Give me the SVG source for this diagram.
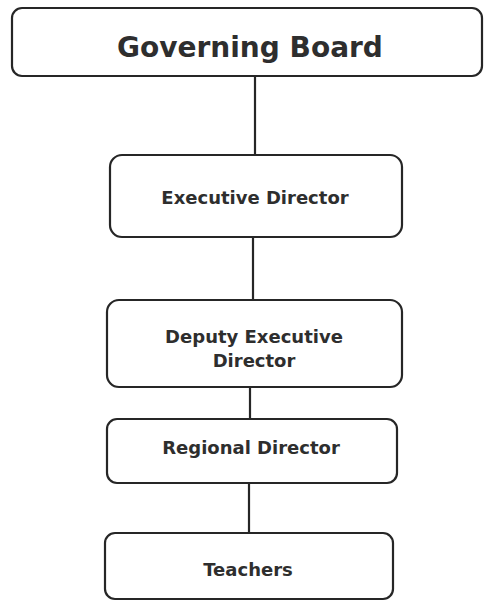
<svg xmlns="http://www.w3.org/2000/svg" width="484" height="602" viewBox="0 0 484 602">
<style>
.box{fill:#fff;stroke:#262626;stroke-width:2.2}
.lbl{font-family:"DejaVu Sans",Verdana,sans-serif;font-weight:bold;fill:#2e2e2e;text-anchor:middle}
.big{font-size:28px}
.sm{font-size:18px}
.ln{stroke:#262626;stroke-width:2.2;fill:none}
</style>
<rect width="484" height="602" fill="#fff"/>
<g id="connectors">
<line class="ln" x1="255" y1="76" x2="255" y2="156"/>
<line class="ln" x1="253" y1="237" x2="253" y2="301"/>
<line class="ln" x1="250" y1="387" x2="250" y2="419"/>
<line class="ln" x1="249" y1="483" x2="249" y2="533"/>
</g>
<g id="governing-board">
<rect class="box" x="12" y="8" width="470" height="68" rx="10"/>
<text class="lbl big" x="250" y="57">Governing Board</text>
</g>
<g id="executive-director">
<rect class="box" x="110" y="155" width="292" height="82" rx="12"/>
<text class="lbl sm" x="255" y="204">Executive Director</text>
</g>
<g id="deputy-executive-director">
<rect class="box" x="107" y="300" width="295" height="87" rx="12"/>
<text class="lbl sm" x="254" y="343">Deputy Executive</text>
<text class="lbl sm" x="254" y="367">Director</text>
</g>
<g id="regional-director">
<rect class="box" x="107" y="419" width="290" height="64" rx="10"/>
<text class="lbl sm" x="251" y="454">Regional Director</text>
</g>
<g id="teachers">
<rect class="box" x="105" y="533" width="288" height="66" rx="10"/>
<text class="lbl sm" x="248" y="576">Teachers</text>
</g>
</svg>
